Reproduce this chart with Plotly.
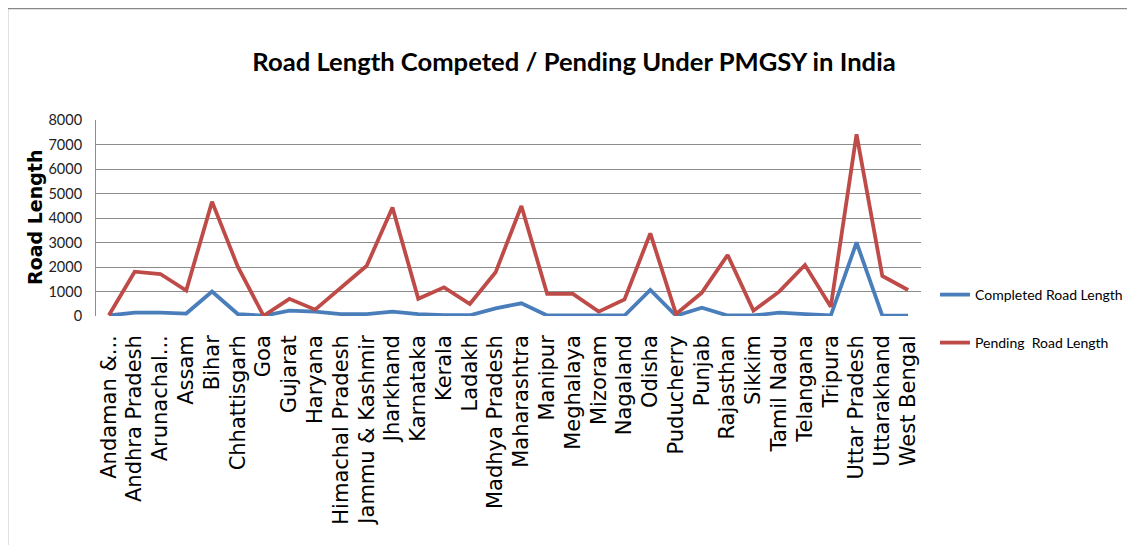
import plotly.graph_objects as go

states = ["Andaman &...", "Andhra Pradesh", "Arunachal...", "Assam", "Bihar", "Chhattisgarh",
          "Goa", "Gujarat", "Haryana", "Himachal Pradesh", "Jammu & Kashmir", "Jharkhand",
          "Karnataka", "Kerala", "Ladakh", "Madhya Pradesh", "Maharashtra", "Manipur",
          "Meghalaya", "Mizoram", "Nagaland", "Odisha", "Puducherry", "Punjab", "Rajasthan",
          "Sikkim", "Tamil Nadu", "Telangana", "Tripura", "Uttar Pradesh", "Uttarakhand",
          "West Bengal"]

completed = [20, 136, 136, 100, 1000, 80, 10, 218, 180, 80, 80, 180, 80, 30, 30, 313, 517,
             20, 20, 20, 20, 1061, 10, 340, 20, 20, 136, 80, 20, 3000, 15, 15]
pending = [30, 1810, 1714, 1040, 4667, 2013, 10, 700, 260, 1150, 2050, 4430, 700, 1170, 490,
           1783, 4490, 900, 900, 177, 680, 3374, 80, 952, 2490, 218, 993, 2082, 381, 7415, 1633,
           1061]

y_ticks = [0, 1000, 2000, 3000, 4000, 5000, 6000, 7000, 8000]

# screen positions (page body has an 8px margin, so figure coords = screen - 8)
OFF = 8
W, H = 1135, 545
L, R, T, B = 96 - OFF, 921 - OFF, 120 - OFF, 316 - OFF


def px(x):
    return (x - OFF - L) / (R - L)


def py(y):
    return (B - (y - OFF)) / (B - T)


def cx(x):
    return (x - OFF) / W


def cy(y):
    return 1 - (y - OFF) / H


cond = "Lato, Liberation Sans Narrow, sans-serif"

fig = go.Figure()
fig.add_trace(go.Scatter(x=states, y=completed, mode="lines", name="Completed Road Length",
                         line=dict(color="#4A7EBB", width=3.8), legend="legend"))
fig.add_trace(go.Scatter(x=states, y=pending, mode="lines", name="Pending\u00a0 Road Length",
                         line=dict(color="#BE4B48", width=3.8), legend="legend2"))

fig.update_layout(
    width=W, height=H,
    margin=dict(l=L, r=W - R, t=T, b=H - B, pad=0, autoexpand=False),
    paper_bgcolor="white", plot_bgcolor="white",
    title=dict(text="<b>Road Length Competed / Pending Under PMGSY in India</b>",
               x=cx(574), xanchor="center", xref="container",
               y=cy(62), yanchor="middle", yref="container",
               font=dict(family=cond, size=25.6, color="black")),
    xaxis=dict(type="category", range=[-0.5, len(states) - 0.5], tickangle=-90,
               tickfont=dict(family="DejaVu Sans, Verdana, sans-serif", size=21, color="black"),
               showgrid=False, showline=False, ticks="", ticklabelstandoff=14,
               zeroline=False),
    yaxis=dict(range=[0, 8000], tickvals=y_ticks, ticktext=[str(v) for v in y_ticks],
               tickfont=dict(family=cond, size=14.5, color="#222"),
               showgrid=True, gridcolor="#8c8c8c", gridwidth=1,
               showline=True, linecolor="#8c8c8c", linewidth=1,
               ticks="", ticklabelstandoff=10, zeroline=False),
    legend=dict(x=cx(935), xanchor="left", xref="container",
                y=cy(295), yanchor="middle", yref="container",
                font=dict(family=cond, size=14, color="black"), bgcolor="rgba(0,0,0,0)"),
    legend2=dict(x=cx(935), xanchor="left", xref="container",
                 y=cy(343), yanchor="middle", yref="container",
                 font=dict(family=cond, size=14, color="black"), bgcolor="rgba(0,0,0,0)"),
    showlegend=True,
    annotations=[dict(text="<b>Road Length</b>", xref="paper", yref="paper",
                      x=px(35), y=py(218), xanchor="center", yanchor="middle",
                      textangle=-90, showarrow=False,
                      font=dict(family="DejaVu Sans, Verdana, sans-serif", size=19, color="black"))],
    shapes=[
        dict(type="line", xref="paper", yref="paper", x0=px(7), x1=px(1145), y0=py(8), y1=py(8),
             line=dict(color="#888888", width=2.5)),
        dict(type="line", xref="paper", yref="paper", x0=px(7.5), x1=px(7.5), y0=py(8), y1=py(555),
             line=dict(color="#888888", width=1.5)),
    ],
)

fig.write_html("out.html")
